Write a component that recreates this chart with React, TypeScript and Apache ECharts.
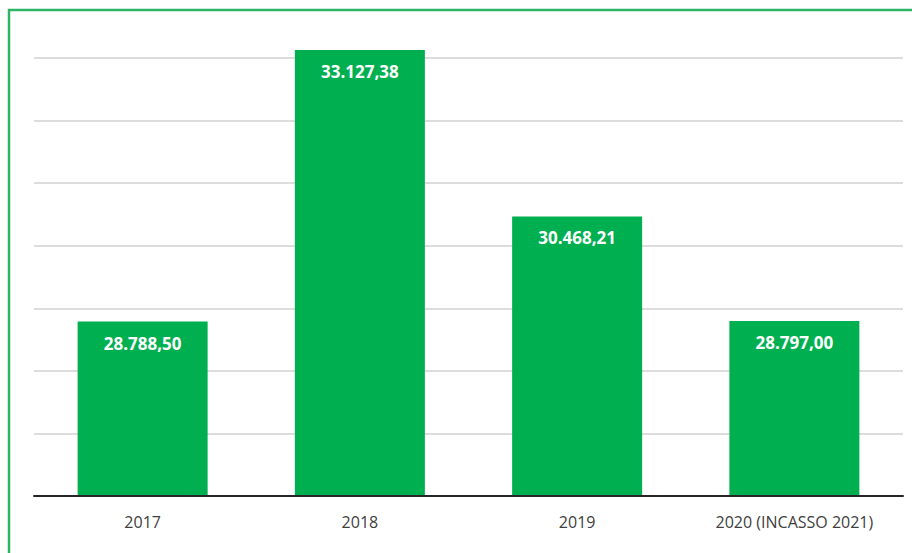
import React, { useEffect, useRef } from "react";
import * as echarts from "echarts";

const categories = ["2017", "2018", "2019", "2020 (INCASSO 2021)"];
const values = [28788.5, 33127.38, 30468.21, 28797.0];
const yMin = 26000;
const yMax = 33200;
const yInterval = 1000;

function formatIt(v: number): string {
  const [intPart, dec] = v.toFixed(2).split(".");
  const withDots = intPart.replace(/\B(?=(\d{3})+(?!\d))/g, ".");
  return withDots + "," + dec;
}

export default function App() {
  const ref = useRef<HTMLDivElement>(null);
  useEffect(() => {
    if (!ref.current) return;
    const chart = echarts.init(ref.current, null, { renderer: "svg" });
    const gridColors = [
      "#d0d0d0", "#d0d0d0", "#d0d0d0", "#d0d0d0",
      "#d0d0d0", "#d0d0d0", "#d0d0d0", "#d0d0d0",
      "rgba(0,0,0,0)",
    ];
    chart.setOption({
      animation: false,
      backgroundColor: "#ffffff",
      graphic: [
        {
          type: "rect",
          shape: { x: 9, y: 10, width: 1000, height: 1000 },
          style: { fill: "none", stroke: "#2db563", lineWidth: 2.5 },
          z: 100,
        },
      ],
      grid: { left: 34, right: 9, top: 45.5, bottom: 57 },
      xAxis: {
        type: "category",
        data: categories,
        z: 10,
        axisLine: { show: true, lineStyle: { color: "#262626", width: 2 } },
        axisTick: { show: false },
        axisLabel: {
          color: "#404040",
          fontSize: 16,
          fontFamily: "Open Sans",
          margin: 18,
        },
      },
      yAxis: {
        type: "value",
        min: yMin,
        max: yMax,
        interval: yInterval,
        axisLabel: { show: false },
        axisLine: { show: false },
        axisTick: { show: false },
        splitLine: { show: true, lineStyle: { color: gridColors, width: 1.5 } },
      },
      series: [
        {
          type: "bar",
          data: values,
          barWidth: 130,
          itemStyle: { color: "#00b050" },
          label: {
            show: true,
            position: "insideTop",
            distance: 13,
            color: "#ffffff",
            fontWeight: "bold",
            fontSize: 17,
            fontFamily: "Open Sans",
            formatter: (p: any) => formatIt(p.value),
          },
        },
      ],
    });
    return () => chart.dispose();
  }, []);
  return (
    <div
      ref={ref}
      style={{ position: "fixed", left: 0, top: 0, width: 912, height: 553 }}
    />
  );
}
